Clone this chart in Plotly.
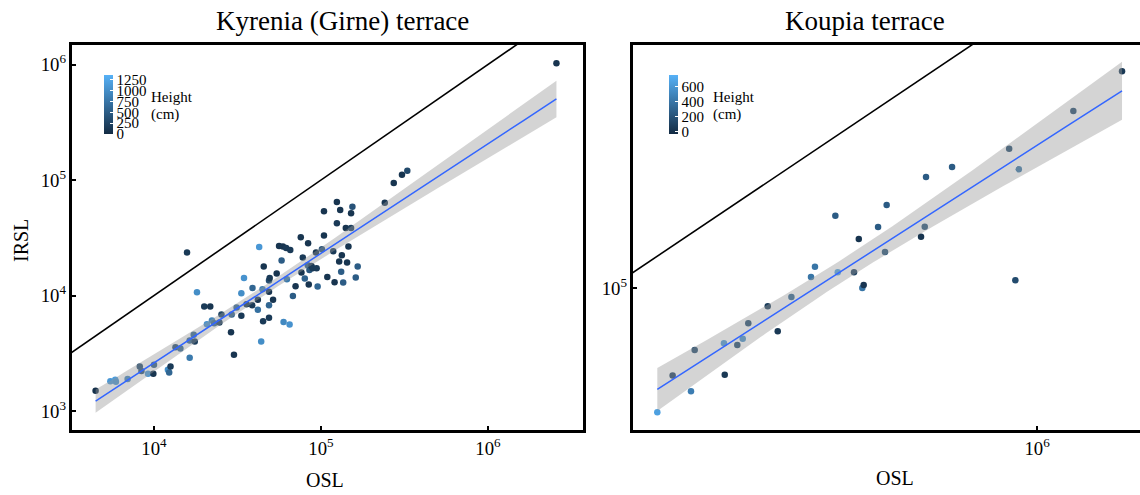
import numpy as np
import plotly.graph_objects as go

# ---------------- data ----------------
kyrenia_osl = [4470, 5480, 5860, 5915, 6950, 8220, 8410, 9210, 10000, 9910,
               12110, 12330, 12560, 13450, 14390, 15770, 16360, 16360, 17290, 17540,
               18090, 20000, 21720, 20750, 22230, 22930, 24650, 25340, 28920, 29190,
               30120, 31250, 33340, 33340, 34590, 35840, 38730, 38910, 41860, 41860,
               42650, 43850, 44650, 45000, 45410, 48840, 48840, 48840, 48840, 49300,
               51640, 54290, 56090, 58090, 59160, 59700, 61890, 62510, 64870, 65460,
               67890, 70430, 75680, 76380, 77800, 79980, 83340, 83720, 84490, 85270,
               87650, 89130, 93320, 94180, 95480, 101300, 104200, 104200, 109100, 118400,
               120600, 124500, 124500, 130300, 128500, 132100, 133300, 135800, 140800, 143300,
               146000, 151400, 151400, 154200, 161500, 165900, 241000, 272700, 305500, 328800,
               2570000]
kyrenia_irsl = [1500, 1815, 1866, 1795, 1893, 2432, 2218, 2105, 2516, 2105,
                2275, 2158, 2432, 3573, 3480, 23550, 2893, 4083, 4572, 4000,
                10690, 8036, 8036, 5650, 6080, 5770, 5850, 6855, 4820, 6855,
                3070, 7870, 6670, 10470, 14210, 8410, 8250, 11650, 9180, 7520,
                26360, 4000, 11350, 5995, 17820, 13480, 10760, 8250, 6410, 14210,
                9180, 15490, 26850, 20090, 26570, 5915, 25820, 13840, 5610, 24830,
                9930, 12040, 31910, 15810, 21330, 14030, 18270, 28320, 12450, 16670,
                18040, 17220, 23550, 17220, 11960, 25160, 53550, 33050, 14490, 24160,
                13040, 64570, 42180, 55080, 19680, 16030, 22340, 12950, 38460, 19280,
                26570, 51540, 38460, 58750, 14320, 17820, 63700, 94200, 111200, 120500,
                1027000]
kyrenia_height = [50, 1100, 1150, 1050, 900, 350, 400, 1100, 500, 100,
                  1000, 600, 150, 350, 600, 150, 800, 600, 600, 200,
                  1000, 150, 100, 1050, 900, 600, 200, 250, 100, 550,
                  100, 600, 150, 1000, 1050, 100, 150, 600, 100, 700,
                  1100, 1000, 850, 150, 100, 350, 100, 600, 150, 150,
                  100, 100, 100, 500, 100, 950, 150, 800, 1050, 150,
                  500, 100, 100, 100, 150, 550, 500, 100, 100, 450,
                  100, 150, 100, 150, 600, 400, 100, 100, 100, 150,
                  100, 100, 150, 100, 100, 500, 100, 500, 100, 100,
                  100, 100, 200, 400, 500, 500, 100, 100, 100, 300,
                  100]

koupia_osl = [129100, 140200, 154800, 157900, 184900, 185700, 198700, 204600, 210800, 234100,
              247100, 266000, 295600, 302000, 337100, 341500, 372800, 382500, 389800, 392700,
              424400, 440600, 444500, 535000, 545800, 549600, 632400, 860400, 889600, 906200,
              1216000, 1581000]
koupia_irsl = [36900, 49500, 43650, 60800, 64200, 49870, 63300, 66590, 75340, 86380,
               70670, 93050, 109200, 118700, 178600, 113400, 113400, 148200, 100000, 102400,
               163200, 133500, 194600, 150900, 163600, 243600, 264000, 305700, 106400, 259200,
               413900, 569000]
koupia_height = [650, 100, 450, 150, 600, 50, 150, 550, 150, 80,
                 50, 300, 400, 400, 250, 650, 100, 20, 400, 30,
                 250, 200, 250, 20, 200, 250, 250, 150, 150, 400,
                 150, 50]

panel_titles = ["Kyrenia (Girne) terrace", "Koupia terrace"]
kyrenia_cbar_ticks = [0, 250, 500, 750, 1000, 1250]
koupia_cbar_ticks = [0, 200, 400, 600]

FONT = "Liberation Serif"
COLORSCALE = [[0, "#132B43"], [1, "#56B1F7"]]


def lm_band(osl, irsl, tcrit, n=100):
    lx = np.log10(np.asarray(osl, float))
    ly = np.log10(np.asarray(irsl, float))
    b, a = np.polyfit(lx, ly, 1)
    resid = ly - (a + b * lx)
    nn = len(lx)
    s = np.sqrt(np.sum(resid ** 2) / (nn - 2))
    xm = lx.mean()
    sxx = np.sum((lx - xm) ** 2)
    gx = np.linspace(lx.min(), lx.max(), n)
    gy = a + b * gx
    se = s * np.sqrt(1.0 / nn + (gx - xm) ** 2 / sxx)
    return 10 ** gx, 10 ** gy, 10 ** (gy - tcrit * se), 10 ** (gy + tcrit * se)


fig = go.Figure()

W, H = 1140, 495


def px_x(px):
    return px / W


def px_y(py):
    return (H - py) / H


panels = [
    dict(osl=kyrenia_osl, irsl=kyrenia_irsl, h=kyrenia_height, xa="x", ya="y", t=1.984,
         cmin=0, cmax=1360, ticks=kyrenia_cbar_ticks, cbx=104, lblx=149),
    dict(osl=koupia_osl, irsl=koupia_irsl, h=koupia_height, xa="x2", ya="y2", t=2.042,
         cmin=-30, cmax=750, ticks=koupia_cbar_ticks, cbx=669, lblx=711),
]

for p in panels:
    # 1:1 line
    fig.add_trace(go.Scatter(x=[1e3, 1e7], y=[1e3, 1e7], mode="lines",
                             line=dict(color="black", width=1.6),
                             xaxis=p["xa"], yaxis=p["ya"], showlegend=False,
                             hoverinfo="skip"))
    # points
    fig.add_trace(go.Scatter(
        x=p["osl"], y=p["irsl"], mode="markers", xaxis=p["xa"], yaxis=p["ya"],
        showlegend=False,
        marker=dict(size=6.5, color=p["h"], colorscale=COLORSCALE,
                    cmin=p["cmin"], cmax=p["cmax"],
                    colorbar=dict(
                        x=px_x(p["cbx"]), xanchor="left", xpad=0,
                        y=px_y(104.5), yanchor="middle", ypad=0,
                        lenmode="pixels", len=59, thickness=9,
                        outlinewidth=0, tickvals=p["ticks"],
                        ticks="inside", ticklen=3, tickcolor="white", tickwidth=1,
                        tickfont=dict(family=FONT, size=15, color="black"),
                        title=dict(text=""),
                    ))))
    # regression band and line (drawn over the points, like ggplot's smooth)
    gx, gy, lo, hi = lm_band(p["osl"], p["irsl"], p["t"])
    fig.add_trace(go.Scatter(x=np.concatenate([gx, gx[::-1]]),
                             y=np.concatenate([lo, hi[::-1]]),
                             fill="toself", fillcolor="rgba(153,153,153,0.42)",
                             line=dict(width=0), mode="lines",
                             xaxis=p["xa"], yaxis=p["ya"], showlegend=False,
                             hoverinfo="skip"))
    fig.add_trace(go.Scatter(x=gx, y=gy, mode="lines",
                             line=dict(color="#3366FF", width=1.5),
                             xaxis=p["xa"], yaxis=p["ya"], showlegend=False,
                             hoverinfo="skip"))

axis_common = dict(type="log", showgrid=False, zeroline=False,
                   showline=True, linecolor="black", linewidth=3,
                   ticks="inside", ticklen=4, tickwidth=1.5, tickcolor="black",
                   exponentformat="power", dtick=1,
                   tickfont=dict(family=FONT, size=15, color="black"))

y_dom = [px_y(430), px_y(45)]

fig.update_layout(
    width=W, height=H,
    margin=dict(l=0, r=0, t=0, b=0),
    paper_bgcolor="white", plot_bgcolor="white",
    xaxis=dict(axis_common, domain=[px_x(72), px_x(583)],
               range=[3.509, 6.569], mirror=True, anchor="y"),
    yaxis=dict(axis_common, domain=y_dom, range=[2.836, 6.169],
               mirror=True, anchor="x"),
    xaxis2=dict(axis_common, domain=[px_x(633), 1.0],
                range=[5.054, 6.241], mirror=True, anchor="y2"),
    yaxis2=dict(axis_common, domain=y_dom, range=[4.505, 5.847],
                mirror=False, anchor="x2"),
)

ann = []
ann.append(dict(text=panel_titles[0], x=px_x(342), y=px_y(21)))
ann.append(dict(text=panel_titles[1], x=px_x(865), y=px_y(21)))
for a in ann:
    a.update(xref="paper", yref="paper", showarrow=False,
             font=dict(family=FONT, size=27, color="black"),
             xanchor="center", yanchor="middle")
ax_lbls = [
    dict(text="OSL", x=px_x(325), y=px_y(480)),
    dict(text="OSL", x=px_x(895), y=px_y(478)),
    dict(text="IRSL", x=px_x(21), y=px_y(240), textangle=-90),
]
for a in ax_lbls:
    a.update(xref="paper", yref="paper", showarrow=False,
             font=dict(family=FONT, size=20, color="black"),
             xanchor="center", yanchor="middle")
cb_lbls = []
for p in panels:
    cb_lbls.append(dict(text="Height", x=px_x(p["lblx"]), y=px_y(97)))
    cb_lbls.append(dict(text="(cm)", x=px_x(p["lblx"]), y=px_y(114)))
for a in cb_lbls:
    a.update(xref="paper", yref="paper", showarrow=False,
             font=dict(family=FONT, size=15, color="black"),
             xanchor="left", yanchor="middle")
fig.update_layout(annotations=ann + ax_lbls + cb_lbls)

fig.write_html("out.html", config={"displayModeBar": False})
